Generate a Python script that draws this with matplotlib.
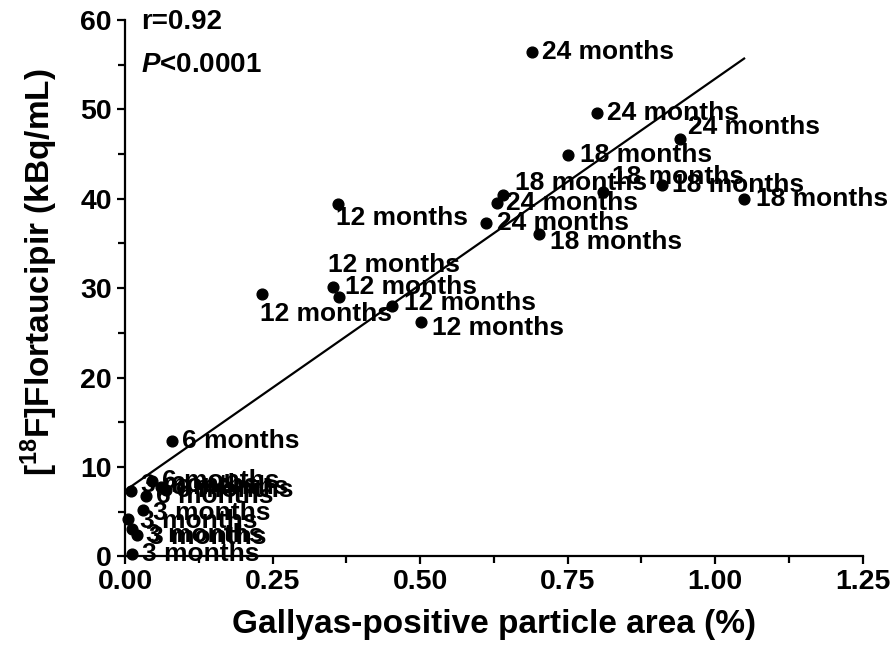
import numpy as np
import matplotlib.pyplot as plt
from matplotlib.ticker import MultipleLocator

plt.rcParams['font.family'] = ['Liberation Sans', 'DejaVu Sans']
plt.rcParams['font.weight'] = 'bold'
plt.rcParams['mathtext.fontset'] = 'custom'
plt.rcParams['mathtext.rm'] = 'Liberation Sans:bold'
plt.rcParams['mathtext.bf'] = 'Liberation Sans:bold'
plt.rcParams['mathtext.it'] = 'Liberation Sans:bold:italic'

# Gallyas-positive area (%) vs [18F]Flortaucipir (kBq/mL), grouped by age
area_3m = [0.010, 0.030, 0.005, 0.012, 0.020, 0.012]
suv_3m = [7.3, 5.2, 4.2, 3.0, 2.4, 0.3]
area_6m = [0.080, 0.045, 0.060, 0.070, 0.035]
suv_6m = [12.9, 8.4, 7.8, 7.4, 6.7]
area_12m = [0.361, 0.353, 0.363, 0.232, 0.453, 0.502]
suv_12m = [39.4, 30.1, 29.0, 29.4, 28.0, 26.2]
area_18m = [0.641, 0.702, 0.751, 0.810, 0.910, 1.049]
suv_18m = [40.4, 36.1, 44.9, 40.8, 41.5, 40.0]
area_24m = [0.690, 0.800, 0.940, 0.631, 0.612]
suv_24m = [56.4, 49.6, 46.7, 39.5, 37.3]

groups = [("3 months", area_3m, suv_3m),
          ("6 months", area_6m, suv_6m),
          ("12 months", area_12m, suv_12m),
          ("18 months", area_18m, suv_18m),
          ("24 months", area_24m, suv_24m)]

# label offsets in pixels (dx, dy) for each point, per group
offsets = {
    "3 months": [(10, 6), (10, -3), (12, -2), (14, -6), (12, -2), (10, 0)],
    "6 months": [(10, 0), (10, 0), (10, 0), (10, 0), (10, 0)],
    "12 months": [(-2, -14), (12, 0), (-11, 32), (-2, -20), (12, 3), (11, -6)],
    "18 months": [(12, 12), (11, -8), (12, 0), (9, 15), (10, 0), (12, 0)],
    "24 months": [(10, 0), (10, 0), (8, 12), (9, 0), (11, 0)],
}

fig = plt.figure(figsize=(8.94, 6.49), dpi=100)
ax = fig.add_axes([0.14, 0.143, 0.825, 0.826])

all_x, all_y = [], []
for name, xs, ys in groups:
    ax.scatter(xs, ys, s=60, color='black', zorder=3, clip_on=False)
    for (x, y), (dx, dy) in zip(zip(xs, ys), offsets[name]):
        ax.annotate(name, (x, y), xytext=(dx, dy), textcoords='offset pixels',
                    fontsize=19, fontweight='bold', va='center', ha='left')
    all_x += xs
    all_y += ys

slope, intercept = np.polyfit(all_x, all_y, 1)
xl = np.array([min(all_x), max(all_x)])
ax.plot(xl, slope * xl + intercept, color='black', lw=1.6)

ax.set_xlim(0, 1.25)
ax.set_ylim(0, 60)
ax.xaxis.set_major_locator(MultipleLocator(0.25))
ax.xaxis.set_minor_locator(MultipleLocator(0.125))
ax.yaxis.set_major_locator(MultipleLocator(10))
ax.yaxis.set_minor_locator(MultipleLocator(5))
ax.set_xticks([0, 0.25, 0.5, 0.75, 1.0, 1.25], ["0.00", "0.25", "0.50", "0.75", "1.00", "1.25"])

for s in ['top', 'right']:
    ax.spines[s].set_visible(False)
for s in ['left', 'bottom']:
    ax.spines[s].set_linewidth(1.6)
ax.tick_params(which='major', length=6, width=1.6, labelsize=20.5)
ax.tick_params(which='minor', length=5, width=1.6)

ax.set_xlabel("Gallyas-positive particle area (%)", fontsize=24, fontweight='bold', labelpad=10)
ax.set_ylabel(r"[$^{18}$F]Flortaucipir (kBq/mL)", fontsize=24, fontweight='bold')
ax.yaxis.set_label_coords(-0.088, 0.53)

ax.text(0.022, 1.02, "r=0.92", transform=ax.transAxes, fontsize=20, fontweight='bold', va='top')
ax.text(0.022, 0.94, r"$\mathit{P}$<0.0001", transform=ax.transAxes, fontsize=20, fontweight='bold', va='top')

fig.savefig("out.png", dpi=100)
